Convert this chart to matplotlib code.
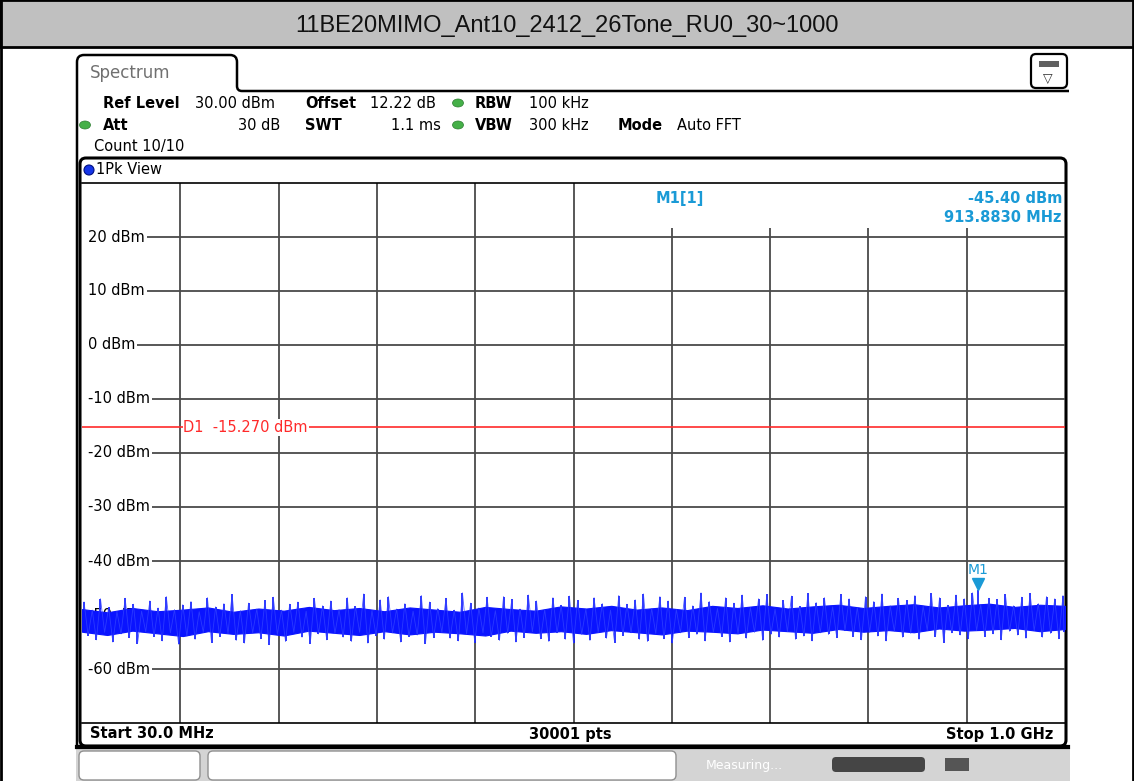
import numpy as np
import matplotlib.pyplot as plt
from matplotlib.patches import Rectangle, FancyBboxPatch, Ellipse, PathPatch
from matplotlib.path import Path

# sweep settings
f_start = 30.0
f_stop = 1000.0
ref_level = 30.0
y_bottom = -70.0
d1_level = -15.27
m1_freq = 913.883
m1_level = -45.40

y_ticks = [20, 10, 0, -10, -20, -30, -40, -50, -60]

# noise floor: local peaks and dips (dBm), left to right
peak_hi = [
    -47.6, -49.1, -47.0, -48.6, -49.4, -46.9, -48.0, -49.3, -47.4, -48.7,
    -46.6, -49.0, -48.1, -47.5, -49.4, -46.8, -48.5, -47.9, -46.2, -49.2,
    -47.8, -48.9, -47.3, -46.7, -49.1, -48.0, -47.6, -49.3, -46.9, -48.3,
    -47.4, -49.0, -46.8, -48.4, -46.1, -49.2, -47.2, -46.6, -48.9, -47.9,
    -49.3, -46.4, -47.6, -48.8, -46.9, -49.1, -45.9, -47.8, -48.7, -46.7,
    -49.2, -46.6, -47.1, -48.9, -46.3, -47.4, -49.0, -46.8, -48.2, -46.5,
    -47.3, -48.9, -46.8, -47.9, -49.1, -46.4, -48.0, -47.2, -46.1, -48.8,
    -46.6, -47.4, -49.0, -46.7, -48.3, -45.9, -47.5, -48.8, -46.8, -47.8,
    -46.3, -48.6, -47.0, -46.2, -48.9, -47.3, -46.5, -48.4, -46.0, -47.7,
    -46.8, -48.5, -46.2, -47.0, -48.6, -46.6, -47.5, -46.1, -48.3, -46.9,
    -47.3, -46.4, -48.4, -46.0, -46.8, -48.2, -46.3, -47.0, -45.9, -48.1,
    -46.9, -47.1, -46.2, -48.3, -46.7, -46.0, -47.9, -46.6, -47.0, -46.4,
]
peak_lo = [
    -53.8, -54.6, -53.2, -55.0, -53.5, -54.2, -55.3, -53.1, -54.0, -54.8,
    -53.3, -55.4, -53.9, -54.5, -53.2, -55.1, -54.0, -53.4, -54.7, -55.2,
    -53.3, -54.4, -55.5, -53.6, -54.9, -53.2, -54.1, -55.3, -53.5, -54.6,
    -53.4, -54.1, -54.9, -53.2, -55.2, -53.8, -54.5, -53.3, -55.0, -54.0,
    -53.7, -55.3, -54.2, -53.2, -54.3, -54.8, -53.5, -55.1, -53.3, -54.0,
    -54.7, -53.4, -55.0, -54.2, -53.1, -54.4, -54.9, -53.3, -54.5, -55.2,
    -53.6, -54.7, -53.2, -54.3, -55.1, -53.8, -53.3, -54.5, -54.9, -53.4,
    -54.4, -55.2, -53.3, -54.2, -53.6, -54.8, -53.2, -54.0, -55.0, -53.5,
    -54.3, -53.2, -54.7, -53.6, -54.1, -53.1, -54.5, -53.9, -54.8, -53.3,
    -53.6, -54.2, -52.9, -54.0, -54.6, -53.2, -53.9, -54.8, -53.0, -54.1,
    -53.4, -54.5, -52.8, -54.0, -55.1, -53.3, -53.7, -54.4, -52.9, -54.0,
    -53.5, -54.6, -53.0, -53.7, -54.3, -52.9, -54.1, -53.4, -54.4, -53.1,
]
# solid core of the trace (upper / lower edge)
core_top = [
    -48.9, -49.5, -48.7, -49.3, -49.0, -48.6, -49.4, -48.8, -49.2, -48.5,
    -49.1, -48.7, -49.3, -48.6, -49.0, -49.4, -48.5, -48.9, -49.2, -48.4,
    -48.8, -48.3, -49.0, -48.6, -49.1, -48.3, -48.7, -48.2, -48.8, -48.4,
    -48.1, -48.7, -48.3, -48.0, -48.6, -48.2, -47.9, -48.5, -48.1, -48.3,
]
core_bot = [
    -53.1, -53.7, -52.9, -53.4, -53.9, -53.0, -53.5, -53.2, -53.8, -52.9,
    -53.3, -53.7, -53.0, -53.6, -53.1, -53.4, -53.8, -52.9, -53.3, -53.0,
    -53.5, -52.8, -53.2, -53.6, -52.9, -53.1, -53.4, -52.7, -53.0, -53.3,
    -52.6, -53.1, -52.8, -53.2, -52.5, -52.9, -52.7, -52.4, -53.0, -52.6,
]

W, H = 1134, 781
fig = plt.figure(figsize=(W / 100, H / 100), dpi=100)
fig.patch.set_facecolor('white')

# background axes in screen pixels
bg = fig.add_axes([0, 0, 1, 1])
bg.set_xlim(0, W)
bg.set_ylim(H, 0)
bg.axis('off')

# title bar
bg.add_patch(Rectangle((0, 0), W, 47, fc='#c0c0c0', ec='black', lw=2))
bg.plot([1, 1], [0, H], color='black', lw=2)
bg.plot([W - 1.5, W - 1.5], [0, H], color='black', lw=2)
bg.text(W / 2, 26, '11BE20MIMO_Ant10_2412_26Tone_RU0_30~1000', ha='center', va='center',
        fontsize=17, family=['Liberation Sans', 'DejaVu Sans'], color='#111111')

# spectrum tab outline
verts = [(77, 748), (77, 62), (77, 55), (84, 55), (230, 55), (237, 55), (237, 62),
         (237, 86), (237, 91), (242, 91), (1069, 91)]
codes = [Path.MOVETO, Path.LINETO, Path.CURVE3, Path.CURVE3, Path.LINETO, Path.CURVE3,
         Path.CURVE3, Path.LINETO, Path.CURVE3, Path.CURVE3, Path.LINETO]
bg.add_patch(PathPatch(Path(verts, codes), fc='none', ec='black', lw=1.8))
bg.text(90, 73, 'Spectrum', fontsize=12, color='#707070', va='center')

# icon at top right
bg.add_patch(FancyBboxPatch((1031, 54), 36, 34, boxstyle='round,pad=0,rounding_size=5',
                            fc='white', ec='black', lw=1.6))
bg.add_patch(Rectangle((1039, 61), 20, 6, fc='#606060', ec='none'))
bg.text(1048, 78, '\u25bd', ha='center', va='center', fontsize=9, color='#333333')

# settings block
fs = 10.5
green = '#45b048'
bg.text(103, 103, 'Ref Level', fontsize=fs, weight='bold', va='center')
bg.text(195, 103, '30.00 dBm', fontsize=fs, va='center')
bg.text(305, 103, 'Offset', fontsize=fs, weight='bold', va='center')
bg.text(370, 103, '12.22 dB', fontsize=fs, va='center')
bg.text(475, 103, 'RBW', fontsize=fs, weight='bold', va='center')
bg.text(529, 103, '100 kHz', fontsize=fs, va='center')
bg.text(103, 125, 'Att', fontsize=fs, weight='bold', va='center')
bg.text(280, 125, '30 dB', fontsize=fs, va='center', ha='right')
bg.text(305, 125, 'SWT', fontsize=fs, weight='bold', va='center')
bg.text(441, 125, '1.1 ms', fontsize=fs, va='center', ha='right')
bg.text(475, 125, 'VBW', fontsize=fs, weight='bold', va='center')
bg.text(529, 125, '300 kHz', fontsize=fs, va='center')
bg.text(618, 126, 'Mode', fontsize=fs, weight='bold', va='center')
bg.text(677, 126, 'Auto FFT', fontsize=fs, va='center')
bg.text(94, 146, 'Count 10/10', fontsize=fs, va='center')
for cx, cy in [(458, 103), (85, 125), (458, 125)]:
    bg.add_patch(Ellipse((cx, cy), 11, 8, fc=green, ec='#2e7d32', lw=0.5))

# trace window
bg.add_patch(FancyBboxPatch((80, 158), 986, 588, boxstyle='round,pad=0,rounding_size=6',
                            fc='white', ec='black', lw=2.2))
bg.add_patch(Ellipse((89, 170), 10, 10, fc='#1535e8', ec='#001080', lw=0.8))
bg.text(96, 170, '1Pk View', fontsize=fs, va='center')
bg.text(90, 734, 'Start 30.0 MHz', fontsize=fs, weight='bold', va='center')
bg.text(570, 734, '30001 pts', fontsize=fs, weight='bold', va='center', ha='center')
bg.text(1053, 734, 'Stop 1.0 GHz', fontsize=fs, weight='bold', va='center', ha='right')

# status bar
bg.add_patch(Rectangle((76, 748), 994, 33, fc='#d4d4d4', ec='none'))
bg.plot([77, 1068], [747, 747], color='black', lw=3)
bg.add_patch(FancyBboxPatch((79, 751), 121, 29, boxstyle='round,pad=0,rounding_size=5',
                            fc='white', ec='#909090', lw=1))
bg.add_patch(FancyBboxPatch((208, 751), 468, 29, boxstyle='round,pad=0,rounding_size=5',
                            fc='white', ec='#909090', lw=1))
bg.text(706, 766, 'Measuring...', fontsize=9, color='white', va='center')
bg.add_patch(FancyBboxPatch((832, 757), 93, 15, boxstyle='round,pad=0,rounding_size=4',
                            fc='#454545', ec='none'))
bg.add_patch(Rectangle((945, 758), 24, 13, fc='#555555', ec='none'))

# diagram
ax = fig.add_axes([82 / W, 1 - 723 / H, 983 / W, 540 / H])
ax.set_facecolor('none')
ax.set_xlim(f_start, f_stop)
ax.set_ylim(y_bottom, ref_level)
ax.set_xticks([])
ax.set_yticks([])
for side in ['left', 'right']:
    ax.spines[side].set_visible(False)
ax.spines['top'].set_linewidth(1.2)
ax.spines['bottom'].set_linewidth(1.2)

grid_c = '#4a4a4a'
div = (f_stop - f_start) / 10
for k in range(1, 10):
    ax.axvline(f_start + k * div, color=grid_c, lw=1.3, zorder=1)
for yv in y_ticks:
    ax.hlines(yv, f_start + 8, f_stop, color=grid_c, lw=1.3, zorder=1)
    ax.text(f_start + 6, yv, f'{yv} dBm', fontsize=fs, va='center', ha='left', zorder=2,
            bbox=dict(fc='white', ec='none', pad=1.5))

# marker readout area hides the grid
ax.add_patch(Rectangle((f_start + 572 / 983 * 970 + 3, 21.7), 400, 10, fc='white', ec='none', zorder=2))
mcol = '#1a9ad6'
ax.text(620, 27.2, 'M1[1]', fontsize=fs, weight='bold', color=mcol, ha='center', va='center', zorder=3)
ax.text(997, 27.2, f'{m1_level:.2f} dBm', fontsize=fs, weight='bold', color=mcol,
        ha='right', va='center', zorder=3)
ax.text(997, 23.7, f'{m1_freq:.4f} MHz', fontsize=fs, weight='bold', color=mcol,
        ha='right', va='center', zorder=3)

# display line D1
ax.axhline(d1_level, color='#ff2a2a', lw=1.2, zorder=3)
ax.text(130, d1_level, f'D1  {d1_level:.3f} dBm', fontsize=fs, color='#ff2a2a', va='center',
        zorder=4, bbox=dict(fc='white', ec='none', pad=0.5))

# trace: solid core plus hair-like peaks and dips
blue = '#0a14ff'
n = len(peak_hi)
f_hi = np.linspace(f_start + 2, f_stop - 2, n)
f_lo = f_hi + (f_hi[1] - f_hi[0]) / 2
f_lo[-1] = f_stop - 1
fc = np.linspace(f_start, f_stop, len(core_top))
ax.fill_between(fc, core_bot, core_top, color=blue, lw=0.8, ec=blue, zorder=5)
ax.vlines(f_hi, -51, peak_hi, color=blue, lw=1.2, zorder=5)
ax.vlines(f_lo, -51, peak_lo, color=blue, lw=1.2, zorder=5)
ax.vlines([m1_freq], -51, [m1_level], color=blue, lw=1.2, zorder=5)

# zigzag between the peaks gives the fuzzy band edge
zx = np.empty(2 * n)
zy = np.empty(2 * n)
zx[0::2] = f_hi
zx[1::2] = f_lo
zy[0::2] = peak_hi
zy[1::2] = peak_lo
ax.plot(zx, zy, color='#3040ff', lw=0.6, alpha=0.85, zorder=5)

# marker M1
ax.plot([m1_freq], [-44.2], marker='v', ms=8, color=mcol, zorder=6)
ax.text(m1_freq, -41.6, 'M1', fontsize=fs - 0.5, color=mcol, ha='center', va='center', zorder=6)

fig.savefig('out.png', dpi=100)
